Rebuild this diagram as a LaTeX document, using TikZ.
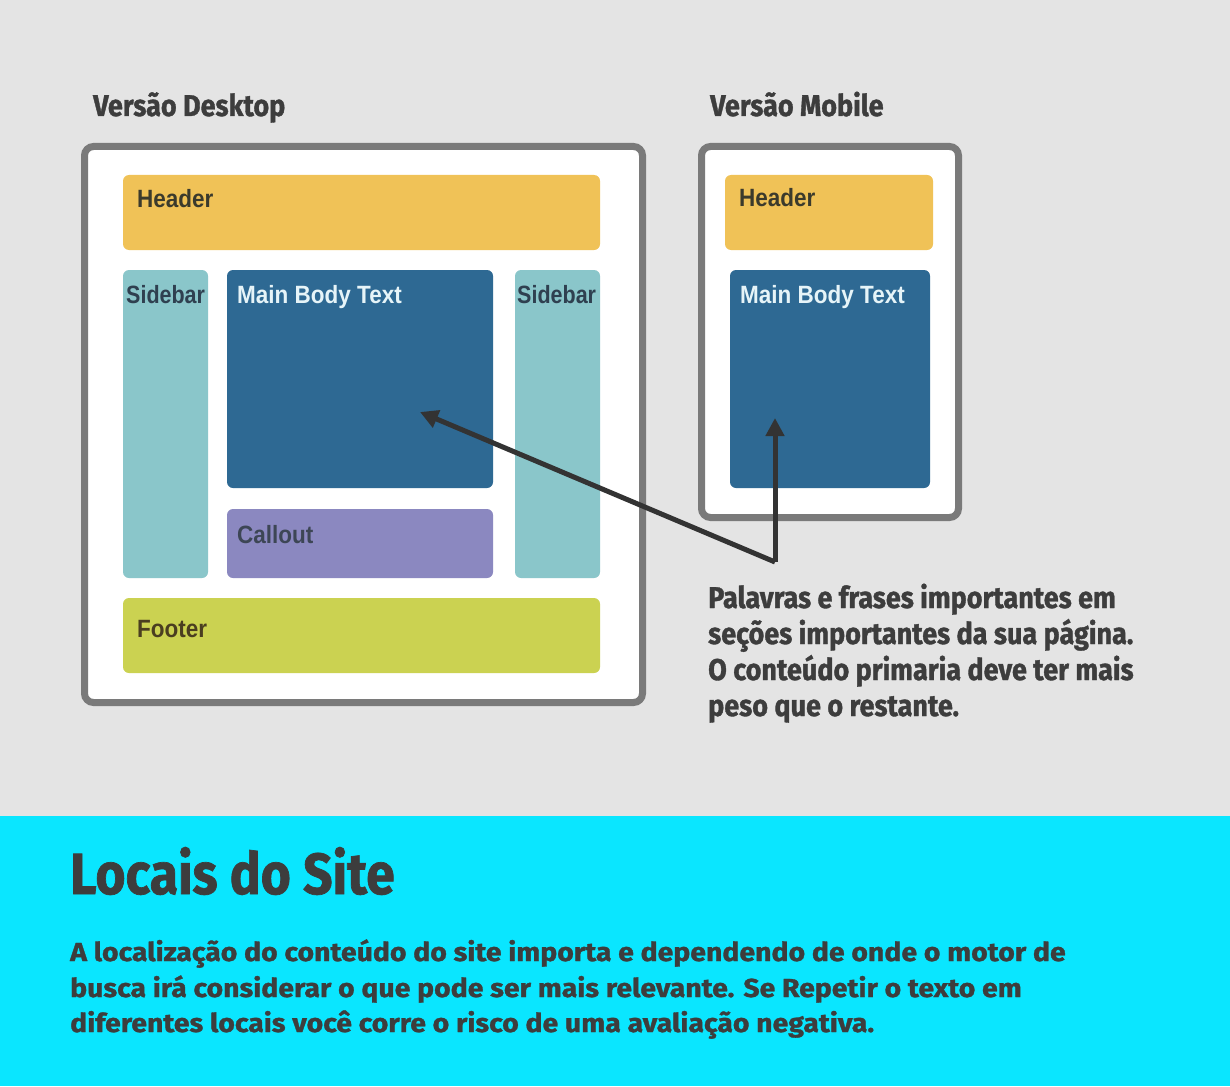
\documentclass[tikz,border=0pt]{standalone}
\usepackage{fontspec}
\usetikzlibrary{arrows.meta}
\newfontfamily\headf[FakeStretch=0.90,FakeBold=1.2]{Fira Sans}
\newfontfamily\titlef[FakeStretch=0.89,FakeBold=1.2]{Fira Sans}
\newfontfamily\bodyf[FakeStretch=1.093,FakeBold=1.2]{Fira Sans}
\newfontfamily\labf[FakeStretch=0.90]{Liberation Sans}
\newfontfamily\sidef[FakeStretch=0.86]{Liberation Sans}
\definecolor{bggray}{HTML}{E4E4E4}
\definecolor{cyanband}{HTML}{0AE6FF}
\definecolor{framegray}{HTML}{7A7A7A}
\definecolor{txtdark}{HTML}{3D3D3D}
\definecolor{hdrcol}{HTML}{F0C257}
\definecolor{sidecol}{HTML}{8AC6CA}
\definecolor{maincol}{HTML}{2E6993}
\definecolor{callcol}{HTML}{8B88C0}
\definecolor{footcol}{HTML}{CBD251}
\definecolor{arrowcol}{HTML}{333333}
\definecolor{hdrtxt}{HTML}{3B3A2C}
\definecolor{maintxt}{HTML}{E6F4F8}
\definecolor{sidetxt}{HTML}{2F4050}
\definecolor{calltxt}{HTML}{3D4655}
\definecolor{foottxt}{HTML}{4A3E20}
\tikzset{
  box/.style={rectangle, rounded corners=6pt, inner sep=0pt, draw=none},
  frame/.style={rectangle, rounded corners=9pt, draw=framegray, line width=7pt, fill=white, inner sep=0pt},
  lab/.style={anchor=base west, inner sep=0pt, font=\labf\bfseries\fontsize{25}{30}\selectfont},
  sidelab/.style={anchor=base west, inner sep=0pt, text=sidetxt, font=\sidef\bfseries\fontsize{25}{30}\selectfont},
  head/.style={anchor=base west, inner sep=0pt, text=txtdark, font=\headf\bfseries\fontsize{30}{36}\selectfont},
  para/.style={anchor=base west, inner sep=0pt, text=txtdark, font=\headf\bfseries\fontsize{30}{36}\selectfont},
  body/.style={anchor=base west, inner sep=0pt, text=txtdark, font=\bodyf\bfseries\fontsize{26}{30}\selectfont},
  pointer/.style={draw=arrowcol, line width=5pt, -{Triangle[length=18pt,width=18pt]}}
}
\begin{document}
\begin{tikzpicture}[x=1pt,y=-1pt]
\useasboundingbox (0,0) rectangle (1230,1086);
\fill[bggray] (0,0) rectangle (1230,816);
\fill[cyanband] (0,816) rectangle (1230,1086);

% frames
\node[frame, minimum width=558pt, minimum height=556pt] (fd) at (363.5,424.5) {};
\node[frame, minimum width=257pt, minimum height=371pt] (fm) at (830,332) {};

% desktop boxes
\node[box, fill=hdrcol, minimum width=477pt, minimum height=75pt] (hd) at (361.5,212.5) {};
\node[box, fill=sidecol, minimum width=85pt, minimum height=308pt] (sl) at (165.5,424) {};
\node[box, fill=maincol, minimum width=266pt, minimum height=218pt] (md) at (360,379) {};
\node[box, fill=sidecol, minimum width=85pt, minimum height=308pt] (sr) at (557.5,424) {};
\node[box, fill=callcol, minimum width=266pt, minimum height=69pt] (co) at (360,543.5) {};
\node[box, fill=footcol, minimum width=477pt, minimum height=75pt] (ft) at (361.5,635.5) {};
% mobile boxes
\node[box, fill=hdrcol, minimum width=208pt, minimum height=75pt] (hm) at (829,212.5) {};
\node[box, fill=maincol, minimum width=200pt, minimum height=218pt] (mm) at (830,379) {};

% labels
\node[lab, text=hdrtxt] (hdl) at (137,207) {Header};
\node[sidelab] (sll) at (126,303) {Sidebar};
\node[lab, text=maintxt] (mdl) at (237,303) {Main Body Text};
\node[sidelab] (srl) at (517,303) {Sidebar};
\node[lab, text=calltxt] (col) at (237,543) {Callout};
\node[lab, text=foottxt] (ftl) at (137,637) {Footer};
\node[lab, text=hdrtxt] (hml) at (739,206) {Header};
\node[lab, text=maintxt] (mml) at (740,303) {Main Body Text};

% headings
\node[head] (tD) at (93,116) {Versão Desktop};
\node[head] (tM) at (710,116) {Versão Mobile};

% arrows
\coordinate (vx) at (775,562);
\coordinate (tipD) at (420,412);
\coordinate (tipM) at (775,418);
\draw[pointer] (vx) -- (tipD);
\draw[pointer] (vx) -- (tipM);

% callout paragraph
\node[para] (p1) at (708,608) {Palavras e frases importantes em};
\node[para] (p2) at (708,644) {seções importantes da sua página.};
\node[para] (p3) at (708,680) {O conteúdo primaria deve ter mais};
\node[para] (p4) at (708,716) {peso que o restante.};

% bottom band
\node[anchor=base west, inner sep=0pt, text=txtdark, font=\titlef\bfseries\fontsize{58}{60}\selectfont] (title) at (70,894) {Locais do Site};
\node[body] (b1) at (70,961) {A localização do conteúdo do site importa e dependendo de onde o motor de};
\node[body] (b2) at (70,997) {busca irá considerar o que pode ser mais relevante. Se Repetir o texto em};
\node[body] (b3) at (70,1032) {diferentes locais você corre o risco de uma avaliação negativa.};
\end{tikzpicture}
\end{document}
